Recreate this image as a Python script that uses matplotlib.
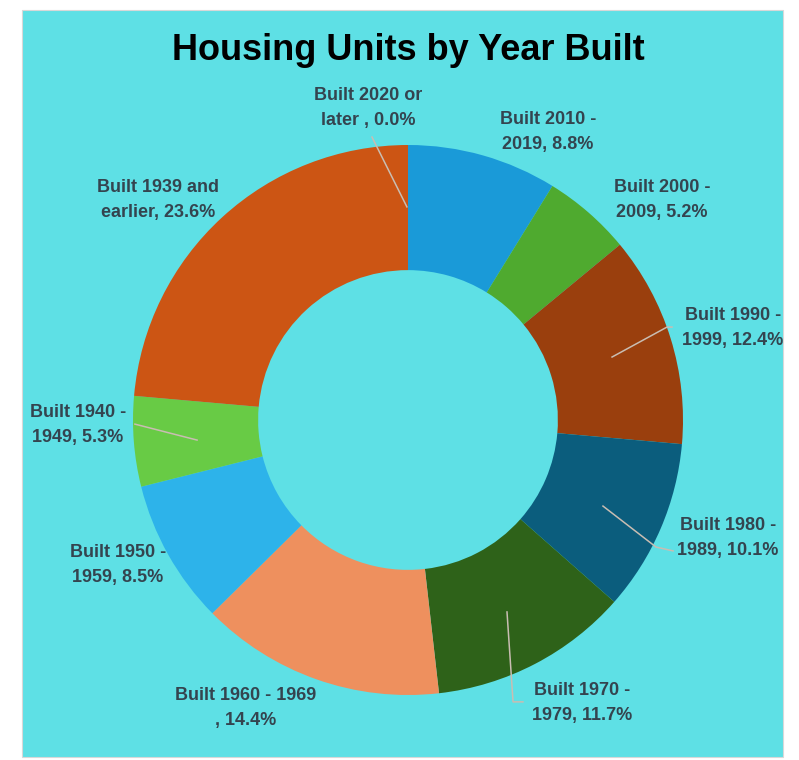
import matplotlib
matplotlib.use("Agg")
import matplotlib.pyplot as plt
from matplotlib.patches import Rectangle

categories = ["Built 2020 or\nlater , 0.0%", "Built 2010 -\n2019, 8.8%", "Built 2000 -\n2009, 5.2%",
              "Built 1990 -\n1999, 12.4%", "Built 1980 -\n1989, 10.1%", "Built 1970 -\n1979, 11.7%",
              "Built 1960 - 1969\n, 14.4%", "Built 1950 -\n1959, 8.5%", "Built 1940 -\n1949, 5.3%",
              "Built 1939 and\nearlier, 23.6%"]
values = [0.0, 8.8, 5.2, 12.4, 10.1, 11.7, 14.4, 8.5, 5.3, 23.6]
colors = ["#8a8a8a", "#1A9AD8", "#4FAA2F", "#9A3F0D", "#0B5D7D", "#2E6219",
          "#EE905E", "#2DB3EA", "#68CB45", "#CC5514"]

# label positions (layout, data units where radius = 1)
label_pos = [(-0.145, 1.135), (0.509, 1.047), (0.924, 0.80), (1.182, 0.335), (1.164, -0.429),
             (0.633, -1.029), (-0.589, -1.047), (-1.055, -0.527), (-1.20, -0.018), (-0.909, 0.80)]
leaders = {
    0: [(-0.131, 1.029), (-0.004, 0.775)],
    3: [(0.742, 0.229), (0.942, 0.338), (0.96, 0.338)],
    4: [(0.709, -0.313), (0.902, -0.462), (0.964, -0.476)],
    5: [(0.36, -0.698), (0.382, -1.025), (0.418, -1.025)],
    8: [(-0.993, -0.015), (-0.767, -0.073)],
}

fam = ["Liberation Sans", "DejaVu Sans"]
bg = "#5EE0E5"
txtc = "#34444F"

fig = plt.figure(figsize=(7.99, 7.60), dpi=100, facecolor="white")
fig.patches.append(Rectangle((22 / 799, 3 / 760), 761 / 799, 747 / 760, transform=fig.transFigure,
                             facecolor=bg, edgecolor="#d8d8d8", linewidth=0.8, zorder=-5))

ax = fig.add_axes([(408 - 275) / 799, (760 - 420 - 275) / 760, 550 / 799, 550 / 760])
ax.set_zorder(2)
ax.set_facecolor("none")

ax.pie(values, colors=colors, startangle=90, counterclock=False, radius=1,
       wedgeprops=dict(width=0.455, edgecolor="none", linewidth=0))
ax.set_xlim(-1, 1)
ax.set_ylim(-1, 1)
ax.set_aspect("equal")
ax.axis("off")

for i, pts in leaders.items():
    xs, ys = zip(*pts)
    ax.plot(xs, ys, color="#C9BDB2", lw=1.1, zorder=5, clip_on=False)

for lab, (x, y) in zip(categories, label_pos):
    ax.text(x, y, lab, ha="center", va="center", fontsize=13, fontweight="bold",
            family=fam, color=txtc, linespacing=1.6, clip_on=False)

fig.text(408 / 799, 1 - 50 / 760, "Housing Units by Year Built", ha="center", va="center",
         fontsize=26, fontweight="bold", family=fam, color="black", zorder=3)

fig.savefig("out.png", dpi=100, facecolor="white")
